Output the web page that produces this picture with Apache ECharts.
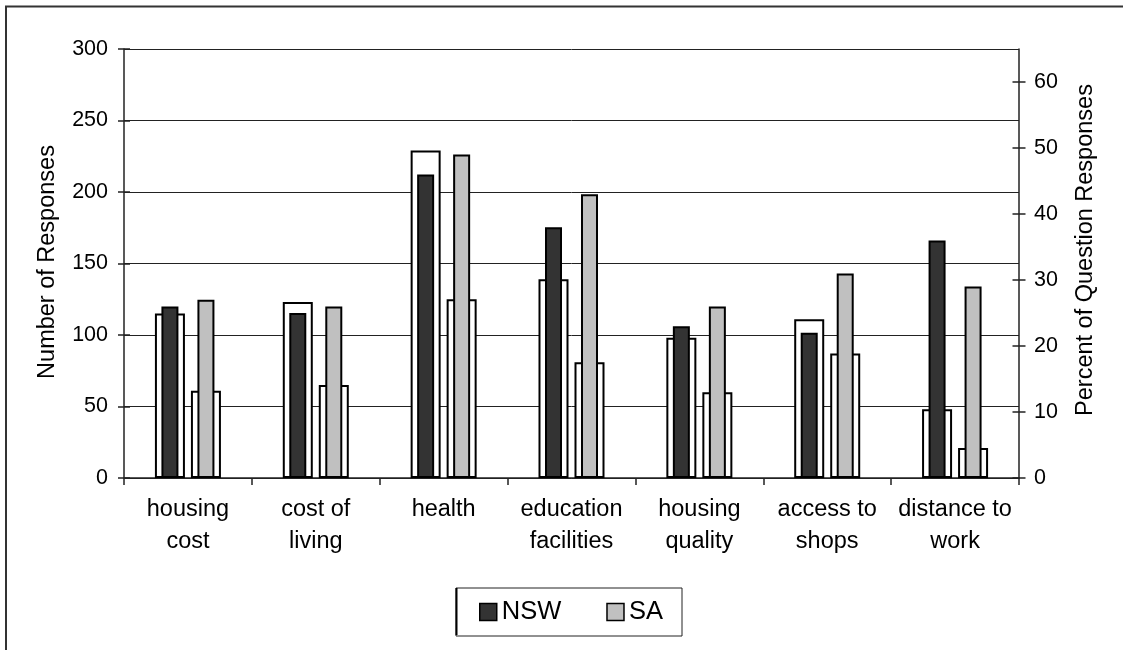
<!DOCTYPE html>
<html><head><meta charset="utf-8">
<script src="https://cdn.jsdelivr.net/npm/echarts@6/dist/echarts.min.js"></script>
<style>html,body{margin:0;padding:0;background:#fff}#c{width:1123px;height:650px}</style>
</head><body><div id="c"></div>
<script>
const categories = ['housing\ncost','cost of\nliving','health','education\nfacilities','housing\nquality','access to\nshops','distance to\nwork'];
const nswCount = [115,123,229,139,98,111,48];
const saCount = [61,65,125,81,60,87,21];
const nswPct = [26,25,46,38,23,22,36];
const saPct = [27,26,49,43,26,31,29];
const countTicks = [0,50,100,150,200,250,300];
const pctTicks = [0,10,20,30,40,50,60];
const leftTitle = 'Number of Responses';
const rightTitle = 'Percent of Question Responses';

const FONT = "'Liberation Sans', Arial, sans-serif";
const chart = echarts.init(document.getElementById('c'), null, {renderer:'canvas'});

const whiteBar = {color:'#ffffff', borderColor:'#000', borderWidth:2};
const yBase = {type:'value', min:0, max:300, interval:50};
const pBase = {type:'value', min:0, max:65, interval:10};

chart.setOption({
  animation:false,
  backgroundColor:'#fff',
  textStyle:{fontFamily:FONT, color:'#000'},
  grid:{left:124, right:104, top:49, bottom:172, containLabel:false},
  legend:{
    left:456, top:588, orient:'horizontal',
    data:['NSW','SA'],
    itemWidth:17, itemHeight:17, itemGap:45,
    padding:[11,19,11,23],
    borderColor:'#222', borderWidth:1,
    icon:'rect',
    itemStyle:{borderColor:'#000', borderWidth:1.5},
    textStyle:{fontFamily:FONT, fontSize:25.5, color:'#000'}
  },
  xAxis:[
    {type:'category', data:categories, position:'bottom',
     axisLine:{show:true, lineStyle:{color:'#222', width:1.5}},
     axisTick:{show:true, length:7, lineStyle:{color:'#222', width:1.5}},
     axisLabel:{fontFamily:FONT, fontSize:23.5, color:'#000', margin:16, lineHeight:32, interval:0},
     splitLine:{show:false}},
    {type:'category', data:categories, show:false}
  ],
  yAxis:[
    Object.assign({}, yBase, {position:'left',
     axisLine:{show:true, lineStyle:{color:'#222', width:1.5}},
     axisTick:{show:true, length:6, lineStyle:{color:'#222', width:1.5}},
     axisLabel:{fontFamily:FONT, fontSize:21.5, color:'#000', margin:16, customValues:countTicks},
     splitLine:{show:true, lineStyle:{color:'#222', width:1}}}),
    Object.assign({}, pBase, {position:'right',
     axisLine:{show:true, lineStyle:{color:'#222', width:1.5}},
     axisTick:{show:true, length:6.5, lineStyle:{color:'#222', width:1.5}, customValues:pctTicks},
     axisLabel:{fontFamily:FONT, fontSize:21.5, color:'#000', margin:15, customValues:pctTicks},
     splitLine:{show:false}}),
    Object.assign({}, yBase, {position:'left',
     axisLine:{show:false},
     axisTick:{show:true, inside:true, length:6, lineStyle:{color:'#222', width:1.5}},
     axisLabel:{show:false}, splitLine:{show:false}}),
    Object.assign({}, pBase, {position:'right',
     axisLine:{show:false},
     axisTick:{show:true, inside:true, length:6.5, lineStyle:{color:'#222', width:1.5}, customValues:pctTicks},
     axisLabel:{show:false}, splitLine:{show:false}})
  ],
  series:[
    {name:'NSW responses', type:'bar', xAxisIndex:0, yAxisIndex:0, data:nswCount,
     barWidth:30, barGap:'20%', itemStyle:whiteBar, z:2},
    {name:'SA responses', type:'bar', xAxisIndex:0, yAxisIndex:0, data:saCount,
     barWidth:30, barGap:'20%', itemStyle:whiteBar, z:2},
    {name:'NSW', type:'bar', xAxisIndex:1, yAxisIndex:1, data:nswPct,
     barWidth:17, barGap:'111.76%', itemStyle:{color:'#333333', borderColor:'#000', borderWidth:2}, z:3},
    {name:'SA', type:'bar', xAxisIndex:1, yAxisIndex:1, data:saPct,
     barWidth:17, barGap:'111.76%', itemStyle:{color:'#c0c0c0', borderColor:'#000', borderWidth:2}, z:3}
  ],
  graphic:[
    {type:'rect', shape:{x:6, y:6.5, width:1300, height:800}, style:{fill:null, stroke:'#333', lineWidth:2}, silent:true, z:-10},
    {type:'line', shape:{x1:456.5, y1:588, x2:456.5, y2:635}, style:{stroke:'#000', lineWidth:2}, silent:true, z:10},
    {type:'text', x:47.5, y:262, rotation:Math.PI/2,
     style:{text:leftTitle, font:'23.5px ' + FONT, fill:'#000', textAlign:'center', textVerticalAlign:'middle'}},
    {type:'text', x:1085.5, y:250, rotation:Math.PI/2,
     style:{text:rightTitle, font:'23.5px ' + FONT, fill:'#000', textAlign:'center', textVerticalAlign:'middle'}}
  ]
});
</script></body></html>
